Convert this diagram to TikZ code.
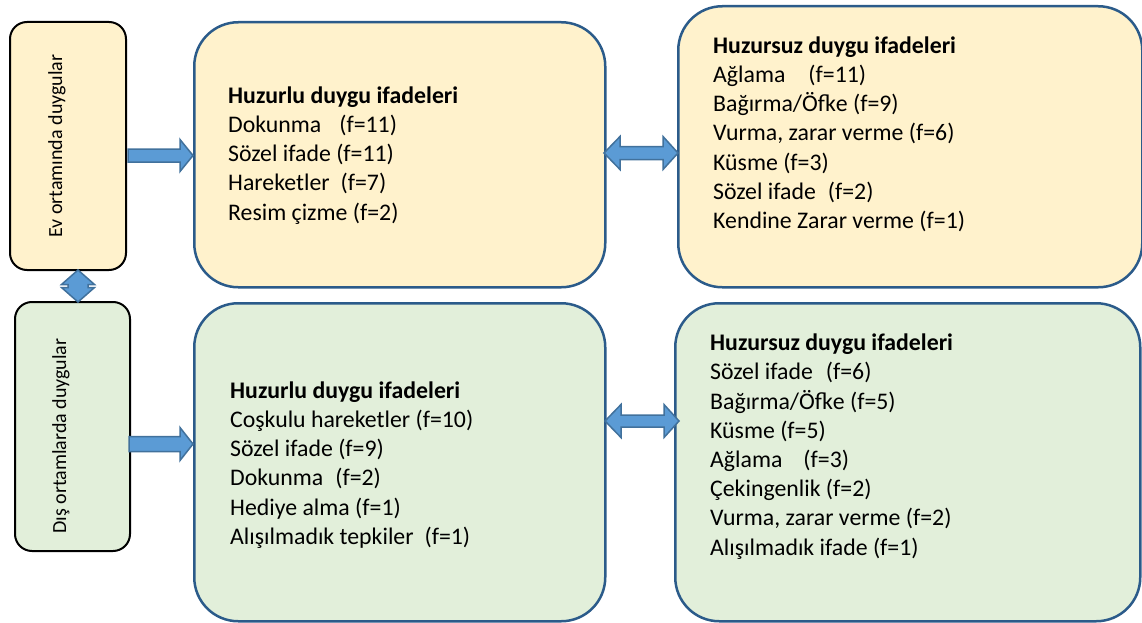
\documentclass[tikz,border=0pt]{standalone}
\usepackage{fontspec}
\setmainfont{Carlito}
\usepackage{tikz}
\usetikzlibrary{positioning}

\definecolor{boxyellow}{HTML}{FFF2CC}
\definecolor{boxgreen}{HTML}{E2EFDA}
\definecolor{boxblue}{HTML}{2B5B8A}
\definecolor{arrowfill}{HTML}{5B9BD5}
\definecolor{arrowedge}{HTML}{41719C}

\tikzset{
	sidebox/.style={draw=black, line width=2pt, rounded corners=17pt, anchor=north west, inner sep=0pt},
	mainbox/.style={draw=boxblue, line width=2.5pt, rounded corners=44pt, anchor=north west, inner sep=0pt},
	listtext/.style={anchor=base west, align=left, inner sep=0pt, font=\fontsize{23.8}{29.2}\selectfont},
	sidetext/.style={rotate=90, inner sep=0pt, font=\fontsize{20}{24}\selectfont},
	blockarrow/.style={fill=arrowfill, draw=arrowedge, line width=1.5pt, line join=miter}
}

\begin{document}
\begin{tikzpicture}[x=1pt,y=-1pt]
	\useasboundingbox (0,0) rectangle (1142,623);
	\node[sidebox, fill=boxyellow, minimum width=116pt, minimum height=248pt](ev) at (9,21){};
	\node[sidebox, fill=boxgreen, minimum width=115pt, minimum height=249pt](dis) at (14,301){};
	\node[mainbox, fill=boxyellow, minimum width=411pt, minimum height=265pt](evcalm) at (193,21){};
	\node[mainbox, fill=boxyellow, minimum width=464pt, minimum height=281pt](evrest) at (677,5){};
	\node[mainbox, fill=boxgreen, minimum width=411pt, minimum height=318pt](discalm) at (193,302){};
	\node[mainbox, fill=boxgreen, minimum width=465pt, minimum height=318pt](disrest) at (674,302){};
	\node[sidetext](evlabel) at (57,146){Ev ortamında duygular};
	\node[sidetext](dislabel) at (61,436){Dış ortamlarda duygular};
	\node[listtext](evcalmlist) at (228,220.1){
		\textbf{Huzurlu duygu ifadeleri}\\
		Dokunma\hspace{18pt}(f=11)\\
		Sözel ifade (f=11)\\
		Hareketler\hspace{11pt}(f=7)\\
		Resim çizme (f=2)};
	\node[listtext](evrestlist) at (713,228.5){
		\textbf{Huzursuz duygu ifadeleri}\\
		Ağlama\hspace{23pt}(f=11)\\
		Bağırma/Öfke (f=9)\\
		Vurma, zarar verme (f=6)\\
		Küsme (f=3)\\
		Sözel ifade\hspace{12pt}(f=2)\\
		Kendine Zarar verme (f=1)};
	\node[listtext](discalmlist) at (230,544.3){
		\textbf{Huzurlu duygu ifadeleri}\\
		Coşkulu hareketler (f=10)\\
		Sözel ifade (f=9)\\
		Dokunma\hspace{12pt}(f=2)\\
		Hediye alma (f=1)\\
		Alışılmadık tepkiler\hspace{11pt}(f=1)};
	\node[listtext](disrestlist) at (710,555.1){
		\textbf{Huzursuz duygu ifadeleri}\\
		Sözel ifade\hspace{13pt}(f=6)\\
		Bağırma/Öfke (f=5)\\
		Küsme (f=5)\\
		Ağlama\hspace{21pt}(f=3)\\
		Çekingenlik (f=2)\\
		Vurma, zarar verme (f=2)\\
		Alışılmadık ifade (f=1)};
	\coordinate (evtail) at (128,155.5);
	\coordinate (evtip) at (193,155.5);
	\coordinate (distail) at (129,444);
	\coordinate (distip) at (193,444);
	\coordinate (evleft) at (604,153);
	\coordinate (evright) at (678,153);
	\coordinate (disleft) at (605,421);
	\coordinate (disright) at (679,421);
	\coordinate (linktop) at (78,270);
	\coordinate (linkbottom) at (78,302);
	\draw [blockarrow](evtail) ++(0,-6.5) -- ++(52,0) -- ++(0,-9.5) -- (evtip) -- ++(-13,16) -- ++(0,-9.5) -- ++(-52,0) -- cycle;
	\draw [blockarrow](distail) ++(0,-7.5) -- ++(51,0) -- ++(0,-9) -- (distip) -- ++(-13,16.5) -- ++(0,-9) -- ++(-51,0) -- cycle;
	\draw [blockarrow](evleft) -- ++(16,-16.5) -- ++(0,10) -- ++(43,0) -- ++(0,-10) -- (evright) -- ++(-15,16.5) -- ++(0,-10) -- ++(-43,0) -- ++(0,10) -- cycle;
	\draw [blockarrow](disleft) -- ++(16,-16.5) -- ++(0,10.5) -- ++(43,0) -- ++(0,-10.5) -- (disright) -- ++(-15,16.5) -- ++(0,-10.5) -- ++(-43,0) -- ++(0,10.5) -- cycle;
	\draw [blockarrow](linktop) -- ++(16.5,14.5) -- ++(-6.5,0) -- ++(0,3) -- ++(6.5,0) -- (linkbottom) -- ++(-16.5,-14.5) -- ++(6.5,0) -- ++(0,-3) -- ++(-6.5,0) -- cycle;
\end{tikzpicture}
\end{document}
